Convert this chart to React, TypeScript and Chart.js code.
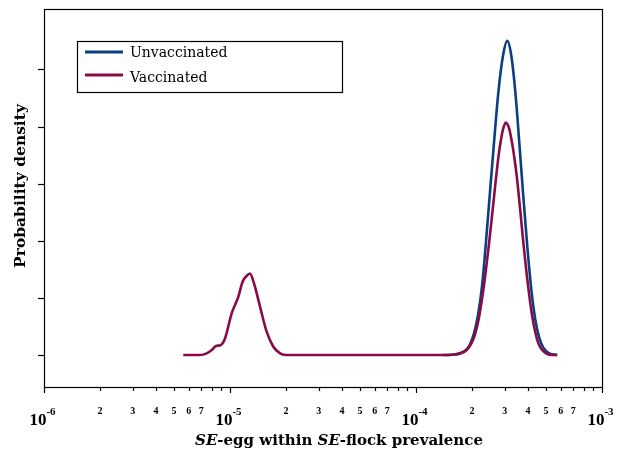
import { useEffect, useRef } from 'react';
import { Chart, registerables } from 'chart.js';

Chart.register(...registerables);

// ---- data ----
const legendLabels = ['Unvaccinated', 'Vaccinated'];
const seriesColors = ['#0a3f82', '#8a0a48'];

const unvaccinatedX = [
  1.397e-4, 1.621e-4, 1.746e-4, 1.857e-4, 1.952e-4, 2.05e-4, 2.154e-4, 2.263e-4, 2.378e-4, 2.499e-4,
  2.626e-4, 2.77e-4, 2.936e-4, 3.097e-4, 3.254e-4, 3.419e-4, 3.593e-4, 3.775e-4, 3.967e-4, 4.168e-4,
  4.38e-4, 4.602e-4, 4.836e-4, 5.208e-4, 5.751e-4,
];
const unvaccinatedY = [
  0, 0.01, 0.04, 0.09, 0.19, 0.38, 0.7, 1.2, 1.98, 2.86,
  3.72, 4.6, 5.25, 5.51, 5.25, 4.62, 3.72, 2.78, 1.9, 1.15,
  0.62, 0.3, 0.13, 0.03, 0,
];

const vaccinatedX = [
  5.61e-6, 6.9e-6, 7.49e-6, 7.97e-6, 8.41e-6, 8.91e-6, 9.4e-6, 1.021e-5, 1.108e-5, 1.17e-5,
  1.23e-5, 1.28e-5, 1.345e-5, 1.45e-5, 1.574e-5, 1.71e-5, 1.86e-5, 2.02e-5, 3e-5, 5e-5,
  8e-5, 1.2e-4, 1.397e-4, 1.621e-4, 1.746e-4, 1.873e-4, 1.976e-4, 2.076e-4, 2.181e-4, 2.292e-4,
  2.349e-4, 2.408e-4, 2.468e-4, 2.53e-4, 2.594e-4, 2.659e-4, 2.725e-4, 2.794e-4, 2.864e-4, 2.918e-4,
  2.973e-4, 3.048e-4, 3.124e-4, 3.183e-4, 3.242e-4, 3.323e-4, 3.406e-4, 3.492e-4, 3.579e-4, 3.669e-4,
  3.761e-4, 3.855e-4, 3.952e-4, 4.051e-4, 4.152e-4, 4.256e-4, 4.363e-4, 4.473e-4, 4.585e-4, 4.729e-4,
  5.0e-4, 5.385e-4, 5.729e-4,
];
const vaccinatedY = [
  0, 0, 0.03, 0.088, 0.158, 0.175, 0.29, 0.73, 1.02, 1.29,
  1.39, 1.43, 1.26, 0.85, 0.41, 0.146, 0.03, 0, 0, 0,
  0, 0, 0, 0.01, 0.03, 0.088, 0.19, 0.36, 0.66, 1.1,
  1.36, 1.65, 1.95, 2.27, 2.6, 2.94, 3.26, 3.55, 3.78, 3.92,
  4.02, 4.08, 4.03, 3.95, 3.82, 3.62, 3.38, 3.1, 2.76, 2.4,
  2.03, 1.69, 1.37, 1.08, 0.82, 0.6, 0.42, 0.28, 0.18, 0.1,
  0.03, 0, 0,
];

const yTickValues = [0, 1, 2, 3, 4, 5];
const yMin = -0.561;
const yMax = 6.07;
const xMin = 1e-6;
const xMax = 1e-3;
const decadeExponents = [-6, -5, -4, -3];
const minorTickMultipliers = [2, 3, 4, 5, 6, 7, 8, 9];
const minorLabelMultipliers = [2, 3, 4, 5, 6, 7];

const yTitle = 'Probability density';
const xTitleParts: [string, boolean][] = [
  ['SE', true],
  ['-egg within ', false],
  ['SE', true],
  ['-flock prevalence', false],
];

const TITLE_FONT = '"DejaVu Serif"';
const NUM_FONT = '"Liberation Serif"';

const decorPlugin = {
  id: 'decor',
  afterDraw(chart: any) {
    const ctx: CanvasRenderingContext2D = chart.ctx;
    const { left, top, right, bottom } = chart.chartArea;
    const xs = chart.scales.x;
    ctx.save();

    // frame
    ctx.strokeStyle = '#000';
    ctx.lineWidth = 1.2;
    ctx.strokeRect(Math.round(left) + 0.5, Math.round(top) + 0.5, Math.round(right - left), Math.round(bottom - top));

    // x ticks
    const drawTick = (v: number, len: number) => {
      const px = Math.round(xs.getPixelForValue(v)) + 0.5;
      ctx.beginPath();
      ctx.moveTo(px, bottom);
      ctx.lineTo(px, bottom + len);
      ctx.stroke();
    };
    decadeExponents.forEach((e, i) => {
      drawTick(Math.pow(10, e), 6);
      if (i < decadeExponents.length - 1) {
        minorTickMultipliers.forEach((m) => drawTick(m * Math.pow(10, e), 4));
      }
    });

    // x tick labels
    ctx.fillStyle = '#000';
    ctx.textBaseline = 'alphabetic';
    decadeExponents.forEach((e, i) => {
      const px = xs.getPixelForValue(Math.pow(10, e));
      ctx.font = `bold 17px ${NUM_FONT}`;
      const w1 = ctx.measureText('10').width;
      ctx.font = `bold 11px ${NUM_FONT}`;
      const sup = String(e);
      const w2 = ctx.measureText(sup).width;
      const start = px - (w1 + w2) / 2 - 1.5;
      ctx.textAlign = 'left';
      ctx.font = `bold 17px ${NUM_FONT}`;
      ctx.fillText('10', start, 425);
      ctx.font = `bold 11px ${NUM_FONT}`;
      ctx.fillText(sup, start + w1, 415);
      if (i < decadeExponents.length - 1) {
        ctx.font = `bold 10px ${NUM_FONT}`;
        ctx.textAlign = 'center';
        minorLabelMultipliers.forEach((m) => {
          const mp = xs.getPixelForValue(m * Math.pow(10, e));
          ctx.fillText(String(m), mp, 414);
        });
      }
    });

    // x title (mixed italic)
    let total = 0;
    const widths = xTitleParts.map(([t, it]) => {
      ctx.font = `${it ? 'italic ' : ''}bold 15px ${TITLE_FONT}`;
      const w = ctx.measureText(t).width;
      total += w;
      return w;
    });
    let xPos = 339 - total / 2;
    ctx.textAlign = 'left';
    xTitleParts.forEach(([t, it], i) => {
      ctx.font = `${it ? 'italic ' : ''}bold 15px ${TITLE_FONT}`;
      ctx.fillText(t, xPos, 445);
      xPos += widths[i];
    });

    // y title
    ctx.save();
    ctx.translate(25, 186);
    ctx.rotate(-Math.PI / 2);
    ctx.font = `bold 15.5px ${TITLE_FONT}`;
    ctx.textAlign = 'center';
    ctx.fillText(yTitle, 0, 0);
    ctx.restore();

    // legend
    ctx.lineWidth = 1.2;
    ctx.strokeStyle = '#000';
    ctx.strokeRect(77.5, 41.5, 265, 51);
    const rows = [52, 75];
    const baselines = [57, 82];
    legendLabels.forEach((lab, i) => {
      const ds = chart.data.datasets.find((d: any) => d.label === lab);
      ctx.strokeStyle = ds ? ds.borderColor : seriesColors[i];
      ctx.lineWidth = 3;
      ctx.beginPath();
      ctx.moveTo(85, rows[i]);
      ctx.lineTo(123, rows[i]);
      ctx.stroke();
      ctx.fillStyle = '#000';
      ctx.font = `14px ${TITLE_FONT}`;
      ctx.textAlign = 'left';
      ctx.fillText(lab, 130, baselines[i]);
    });

    ctx.restore();
  },
};

export default function App() {
  const ref = useRef<HTMLCanvasElement | null>(null);

  useEffect(() => {
    if (!ref.current) return;
    const chart = new Chart(ref.current, {
      type: 'line',
      data: {
        datasets: [
          {
            label: legendLabels[0],
            data: unvaccinatedX.map((x, i) => ({ x, y: unvaccinatedY[i] })),
            borderColor: seriesColors[0],
            borderWidth: 2.6,
            pointRadius: 0,
            cubicInterpolationMode: 'monotone',
            fill: false,
            order: 2,
          },
          {
            label: legendLabels[1],
            data: vaccinatedX.map((x, i) => ({ x, y: vaccinatedY[i] })),
            borderColor: seriesColors[1],
            borderWidth: 2.6,
            pointRadius: 0,
            cubicInterpolationMode: 'monotone',
            fill: false,
            order: 1,
          },
        ],
      },
      options: {
        responsive: false,
        animation: false,
        events: [],
        layout: { padding: { top: 9, right: 17, left: 0, bottom: 0 } },
        plugins: {
          legend: { display: false },
          tooltip: { enabled: false },
          title: { display: false },
        },
        scales: {
          x: {
            type: 'logarithmic',
            min: xMin,
            max: xMax,
            grid: { display: false },
            border: { display: false },
            ticks: { display: false },
            afterFit: (s: any) => {
              s.height = 63;
            },
          },
          y: {
            type: 'linear',
            min: yMin,
            max: yMax,
            grid: {
              drawOnChartArea: false,
              drawTicks: true,
              tickLength: 6,
              color: '#000',
              tickColor: '#000',
              tickWidth: 1.2,
            },
            border: { display: false },
            ticks: { display: true, callback: () => '', padding: 0 },
            afterBuildTicks: (s: any) => {
              s.ticks = yTickValues.map((v) => ({ value: v }));
            },
            afterFit: (s: any) => {
              s.width = 44;
            },
          },
        },
      },
      plugins: [decorPlugin],
    } as any);
    return () => chart.destroy();
  }, []);

  return (
    <div style={{ position: 'fixed', left: 0, top: 0, width: 619, height: 450, background: '#fff' }}>
      <canvas ref={ref} width={619} height={450} />
    </div>
  );
}
